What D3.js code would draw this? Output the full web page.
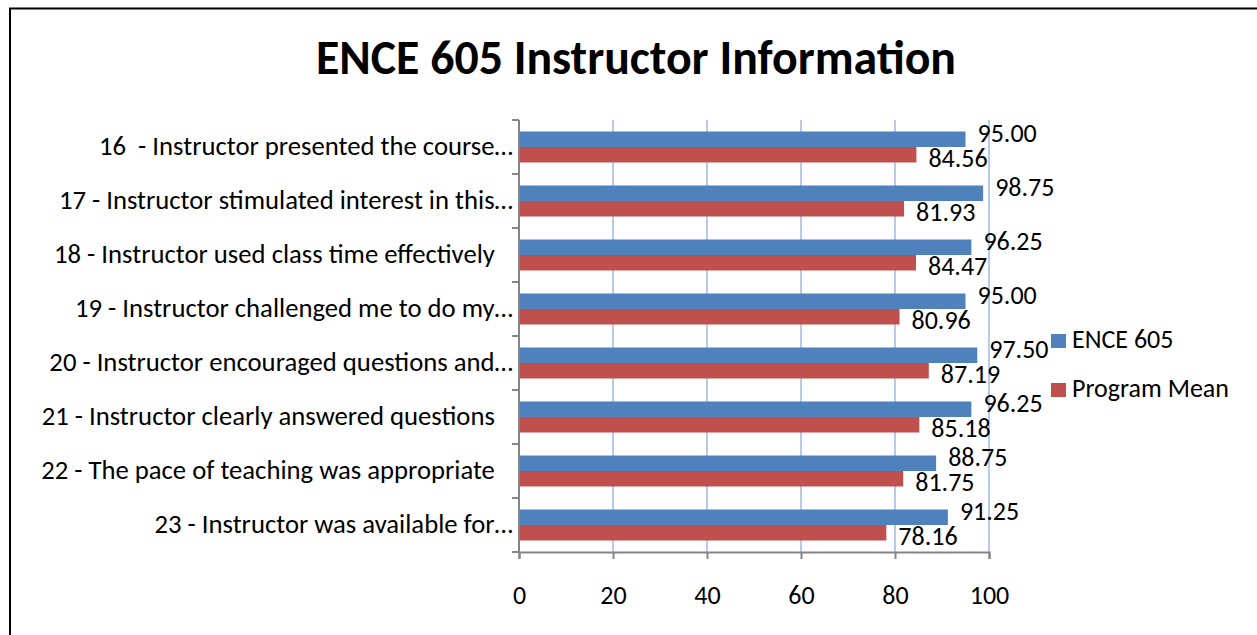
<!DOCTYPE html>
<html>
<head>
<meta charset="utf-8">
<script src="https://cdn.jsdelivr.net/npm/d3@7"></script>
<style>
  body { margin: 0; background: #fff; }
  text { font-family: Carlito, Calibri, "Open Sans", sans-serif; fill: #000; }
</style>
</head>
<body>
<svg width="1257" height="635"></svg>
<script>
// data
const questions = [
  "16  - Instructor presented the course\u2026",
  "17 - Instructor stimulated interest in this\u2026",
  "18 - Instructor used class time effectively   ",
  "19 - Instructor challenged me to do my\u2026",
  "20 - Instructor encouraged questions and\u2026",
  "21 - Instructor clearly answered questions   ",
  "22 - The pace of teaching was appropriate   ",
  "23 - Instructor was available for\u2026"
];
const courseScores  = [95.00, 98.75, 96.25, 95.00, 97.50, 96.25, 88.75, 91.25];
const programScores = [84.56, 81.93, 84.47, 80.96, 87.19, 85.18, 81.75, 78.16];
const seriesNames = ["ENCE 605", "Program Mean"];
const xTicks = [0, 20, 40, 60, 80, 100];

const colors = { 'blue': '#4f81bd', 'red': '#c0504d', 'grid': '#b7cbe8', 'axis': '#868686' };

// setup
const svg = d3.select("svg");
const plot = { left: 519, right: 989, top: 120, bottom: 552 };
const fontSize = 26;

// chart border
svg.append("rect")
   .attr("x", 10).attr("y", 8.5)
   .attr("width", 1300).attr("height", 700)
   .attr("fill", "none").attr("stroke", "#000").attr("stroke-width", 2);

// title
svg.append("text")
   .attr("x", 636).attr("y", 74)
   .attr("text-anchor", "middle")
   .style("font-size", "47.8px").style("font-weight", "bold")
   .text("ENCE 605 Instructor Information");

const rows = questions.map((q, i) => ({ q: q, vals: [courseScores[i], programScores[i]] }));

const x = d3.scaleLinear().domain([0, 100]).range([plot.left, plot.right]);
const y = d3.scaleBand().domain(questions).range([plot.top, plot.bottom])
            .paddingInner(0.426).paddingOuter(0.213);
const y1 = d3.scaleBand().domain([0, 1]).range([0, y.bandwidth()]);
const barColor = d3.scaleOrdinal().domain([0, 1]).range([colors.blue, colors.red]);

// gridlines
svg.append("g").selectAll("line")
   .data(xTicks.slice(1))
   .join("line")
   .attr("x1", d => x(d)).attr("x2", d => x(d))
   .attr("y1", plot.top).attr("y2", plot.bottom)
   .attr("stroke", colors.grid).attr("stroke-width", 2);

// bars
const groups = svg.append("g").selectAll("g")
   .data(rows)
   .join("g")
   .attr("transform", d => "translate(0," + y(d.q) + ")");

groups.selectAll("rect")
   .data(d => d.vals.map((v, k) => ({ k: k, v: v })))
   .join("rect")
   .attr("x", x(0))
   .attr("y", d => y1(d.k))
   .attr("width", d => x(d.v) - x(0))
   .attr("height", y1.bandwidth())
   .attr("fill", d => barColor(d.k));

// value labels (baseline offset from bar centre, as excel stacks them)
const labelShift = [2.5, 12];
groups.selectAll("text")
   .data(d => d.vals.map((v, k) => ({ k: k, v: v })))
   .join("text")
   .attr("x", d => x(d.v) + 12)
   .attr("y", d => y1(d.k) + y1.bandwidth() / 2 + labelShift[d.k])
   .style("font-size", fontSize + "px")
   .text(d => d.v.toFixed(2));

// y axis
const yAxis = svg.append("g")
   .attr("transform", "translate(" + plot.left + ",0)");
yAxis.append("line")
   .attr("x1", 0).attr("x2", 0)
   .attr("y1", plot.top).attr("y2", plot.bottom)
   .attr("stroke", colors.axis).attr("stroke-width", 2);
yAxis.selectAll(".tick")
   .data(d3.range(questions.length + 1))
   .join("line")
   .attr("x1", -7).attr("x2", 0)
   .attr("y1", i => plot.top + i * y.step()).attr("y2", i => plot.top + i * y.step())
   .attr("stroke", colors.axis).attr("stroke-width", 2);
yAxis.selectAll("text")
   .data(questions)
   .join("text")
   .attr("x", -6)
   .attr("y", d => y(d) + y.bandwidth() / 2 + 8)
   .attr("text-anchor", "end")
   .attr("xml:space", "preserve")
   .style("white-space", "pre")
   .style("font-size", "26.7px")
   .text(d => d);

// x axis
const xAxis = d3.axisBottom(x).tickValues(xTicks).tickSize(7).tickPadding(27);
const gx = svg.append("g")
   .attr("transform", "translate(0," + plot.bottom + ")")
   .call(xAxis);
gx.select(".domain").attr("stroke", colors.axis).attr("stroke-width", 2);
gx.selectAll(".tick line").attr("stroke", colors.axis).attr("stroke-width", 2);
gx.selectAll(".tick text").style("font-size", fontSize + "px").attr("fill", "#000")
  .style("font-family", "Carlito, Calibri, 'Open Sans', sans-serif");

// legend
const legend = svg.append("g").selectAll("g")
   .data(seriesNames)
   .join("g")
   .attr("transform", (d, i) => "translate(1051," + (334 + i * 49) + ")");
legend.append("rect")
   .attr("width", 15).attr("height", 14)
   .attr("fill", (d, i) => barColor(i));
legend.append("text")
   .attr("x", 21).attr("y", 14)
   .style("font-size", fontSize + "px")
   .text(d => d);
</script>
</body>
</html>
